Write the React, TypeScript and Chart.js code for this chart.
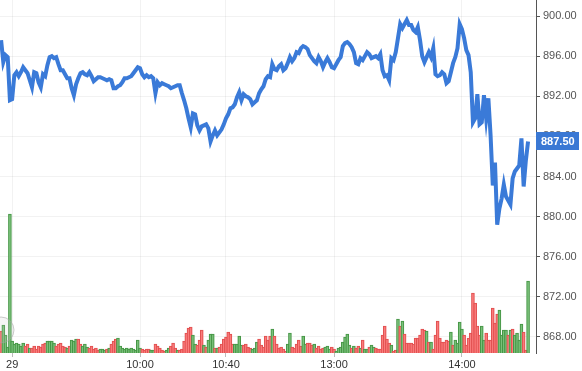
import React, { useEffect, useRef } from 'react';
import { Chart, registerables } from 'chart.js';

Chart.register(...registerables);

// Price (close) per bar
const prices = [
  897.6, 895.4, 896.1, 895.9, 891.6, 891.7, 894.1, 894.4, 894.0, 894.4,
  894.9, 894.6, 894.3, 893.6, 892.9, 894.4, 894.3, 893.4, 892.9, 894.2,
  894.0, 895.1, 895.9, 896.0, 895.8, 895.9, 895.2, 894.6, 894.6, 894.2,
  893.8, 893.8, 892.8, 892.1, 893.2, 893.8, 894.3, 894.4, 894.2, 894.1,
  894.4, 894.0, 893.5, 893.7, 893.9, 893.9, 893.8, 893.7, 893.6, 893.7,
  893.6, 892.8, 892.8, 893.0, 893.1, 893.4, 893.8, 893.8, 893.9, 894.0,
  894.3, 894.6, 894.9, 894.8, 894.2, 893.9, 894.1, 893.9, 894.0, 893.8,
  892.3, 893.4, 893.1, 893.3, 893.2, 893.1, 893.0, 892.8, 892.9, 893.0,
  893.1, 893.1, 892.3, 891.6, 890.8, 889.8, 888.9, 890.3, 890.2, 889.1,
  888.6, 889.0, 889.1, 889.2, 888.8, 887.5, 888.1, 888.6, 888.1, 888.4,
  888.7, 889.2, 889.8, 890.2, 890.8, 890.9, 891.2, 891.9, 892.4, 891.6,
  892.2, 892.0, 891.9, 891.7, 891.2, 891.4, 891.6, 892.3, 892.7, 893.0,
  893.7, 894.0, 893.9, 895.2, 894.7, 894.6, 895.0, 895.2, 894.6, 894.8,
  895.3, 895.9, 895.5, 895.8, 896.4, 896.3, 896.8, 897.0, 896.9, 896.7,
  896.1, 895.8, 895.5, 895.3, 895.9, 895.5, 894.9, 895.4, 895.8, 895.4,
  894.9, 894.8, 895.2, 895.6, 895.9, 897.0, 897.3, 897.4, 897.2, 896.9,
  896.4, 895.3, 895.2, 895.8, 895.6, 896.0, 896.4, 896.2, 895.8, 895.9,
  896.0, 895.8, 896.2, 894.6, 894.0, 894.1, 893.6, 895.8, 895.6, 896.4,
  897.8, 899.2, 898.8, 899.2, 899.6, 899.1, 899.1, 898.6, 898.4, 898.9,
  897.6, 896.0, 895.4, 895.9, 896.4, 895.9, 896.8, 894.2, 894.0, 894.1,
  894.4, 894.2, 893.3, 893.5, 894.4, 895.3, 895.9, 896.8, 899.2, 898.7,
  897.8, 896.6, 896.1, 894.4, 889.4, 889.8, 892.2, 889.2, 889.4, 892.1,
  889.8, 891.8, 888.1, 883.1, 885.4, 879.2, 880.8, 881.8, 883.2, 882.0,
  881.6, 881.2, 883.8, 884.5, 884.8, 885.1, 887.8, 883.0, 885.6, 887.5,
];

// Volume per bar
const volumes = [
  22, 28, 18, 6, 139, 12, 9, 10, 9, 7,
  10, 7, 9, 5, 5, 7, 4, 7, 6, 9,
  10, 12, 12, 12, 10, 7, 9, 10, 7, 6,
  5, 7, 13, 12, 14, 14, 9, 7, 9, 6,
  5, 7, 4, 5, 3, 4, 4, 3, 4, 5,
  9, 12, 14, 15, 7, 5, 4, 5, 4, 5,
  4, 3, 13, 5, 4, 3, 4, 4, 3, 3,
  9, 7, 5, 3, 2, 3, 5, 7, 10, 5,
  3, 3, 4, 12, 20, 25, 26, 18, 9, 8,
  13, 23, 8, 6, 13, 19, 19, 5, 5, 6,
  9, 14, 16, 21, 19, 9, 9, 9, 17, 8,
  8, 9, 6, 5, 4, 5, 11, 14, 8, 6,
  17, 13, 17, 24, 17, 9, 5, 6, 4, 2,
  9, 20, 6, 5, 9, 13, 7, 17, 9, 10,
  10, 8, 9, 5, 7, 4, 5, 6, 7, 4,
  6, 4, 2, 5, 6, 11, 16, 19, 8, 5,
  7, 5, 7, 5, 13, 4, 4, 6, 8, 6,
  5, 4, 4, 18, 27, 14, 10, 8, 2, 3,
  34, 27, 32, 19, 10, 10, 10, 9, 15, 15,
  18, 24, 23, 22, 11, 11, 4, 18, 32, 15,
  11, 11, 13, 12, 21, 8, 13, 10, 31, 24,
  18, 8, 15, 20, 60, 50, 27, 18, 27, 13,
  20, 13, 13, 45, 30, 39, 43, 18, 23, 23,
  18, 23, 24, 18, 20, 13, 29, 21, 3, 72,
];

// Candle direction per bar: U = up, D = down
const barDirection =
  'DUUUUUUUUU' + 'UDDUDDDDDD' + 'DUUUUDDDDD' + 'UDUUUDDUUU' + 'DDDDDUUUDU' +
  'DDDUUUUUUU' + 'UUUUDDDDUU' + 'DDDDDUUDDD' + 'UDDDDDDUUD' + 'DDUDUUUDUD' +
  'DDDDDDUUUU' + 'DDDDUUUDDD' + 'DDDUDDDDDD' + 'UUDDDDDUUD' + 'DDUDDDDUUU' +
  'DDUUUUUUUD' + 'UDDUDUUDUU' + 'DDDDDDDUDD' + 'UDUDDDDDDD' + 'DDDUDUDDDD' +
  'DDDDUDUUUU' + 'DDDDDDDDUU' + 'DDDDDDUUUU' + 'DUDUUUUDDU';

const timeTickIndex = [5, 63, 102, 151, 209];
const timeTickLabels = ['29', '10:00', '10:40', '13:00', '14:00'];
const priceTicks = [868, 872, 876, 880, 884, 888, 892, 896, 900];
const priceMin = 866.4;
const priceMax = 901.6;
const volumeAxisMax = 353;

export default function App() {
  const ref = useRef<HTMLCanvasElement>(null);

  useEffect(() => {
    const canvas = ref.current;
    if (!canvas) return;
    Chart.defaults.font.family = '"Liberation Sans", Arial, sans-serif';

    const up = barDirection.split('').map((c) => c === 'U');
    const linePts = prices.map((p, i) => ({ x: i, y: p }));
    const volPts = volumes.map((v, i) => ({ x: i, y: v }));
    const lastPrice = prices[prices.length - 1];

    const overlay = {
      id: 'overlay',
      afterDatasetsDraw(chart: any) {
        const { ctx, chartArea } = chart;
        ctx.save();
        ctx.beginPath();
        ctx.arc(chartArea.left + 1, chartArea.bottom - 23, 13, 0, Math.PI * 2);
        ctx.fillStyle = 'rgba(200,200,200,0.18)';
        ctx.fill();
        ctx.strokeStyle = 'rgba(160,160,160,0.55)';
        ctx.lineWidth = 1;
        ctx.stroke();
        ctx.restore();
      },
      afterDraw(chart: any) {
        const { ctx, chartArea } = chart;
        const y = chart.scales.y.getPixelForValue(lastPrice);
        ctx.save();
        ctx.fillStyle = '#3a78d4';
        ctx.fillRect(chartArea.right, Math.round(y) - 9, 43, 18);
        ctx.fillStyle = '#ffffff';
        ctx.font = 'bold 11px "Liberation Sans", Arial, sans-serif';
        ctx.textBaseline = 'middle';
        ctx.textAlign = 'left';
        ctx.fillText(lastPrice.toFixed(2), chartArea.right + 5, Math.round(y) + 0.5);
        ctx.restore();
      },
    };

    const chart = new Chart(canvas, {
      type: 'bar',
      data: {
        datasets: [
          {
            type: 'line',
            data: linePts,
            xAxisID: 'x',
            yAxisID: 'y',
            borderColor: 'rgb(58,122,216)',
            borderWidth: 4,
            pointRadius: 0,
            tension: 0,
            order: 0,
          } as any,
          {
            type: 'bar',
            data: volPts,
            xAxisID: 'x',
            yAxisID: 'vol',
            backgroundColor: up.map((u) => (u ? 'rgba(120,195,120,0.7)' : 'rgba(255,120,120,0.7)')),
            borderColor: up.map((u) => (u ? 'rgba(70,150,70,1)' : 'rgba(225,80,80,1)')),
            borderWidth: 1,
            barThickness: 3,
            order: 1,
          } as any,
        ],
      },
      options: {
        animation: false,
        responsive: false,
        devicePixelRatio: 1,
        layout: { padding: 0 },
        plugins: { legend: { display: false }, tooltip: { enabled: false } },
        scales: {
          x: {
            type: 'linear',
            position: 'bottom',
            min: -0.5,
            max: 242.6,
            offset: false,
            grid: {
              offset: false,
              color: 'rgba(0,0,0,0.05)',
              tickColor: '#bbbbbb',
              tickLength: 4,
            },
            border: { display: false },
            ticks: {
              autoSkip: false,
              maxRotation: 0,
              padding: 1,
              color: '#333',
              font: { size: 11 },
              callback: (_v: any, i: number) => timeTickLabels[i],
            },
            afterBuildTicks: (scale: any) => {
              scale.ticks = timeTickIndex.map((v) => ({ value: v }));
            },
            afterFit: (scale: any) => {
              scale.height = 18;
              scale.paddingLeft = 0;
              scale.paddingRight = 0;
            },
          } as any,
          y: {
            type: 'linear',
            position: 'right',
            min: priceMin,
            max: priceMax,
            grid: {
              color: 'rgba(0,0,0,0.05)',
              tickColor: '#555',
              tickLength: 4,
            },
            border: { display: true, color: '#555', width: 1 },
            ticks: {
              padding: 3,
              color: '#555',
              font: { size: 11 },
              callback: (v: any) => Number(v).toFixed(2),
            },
            afterBuildTicks: (scale: any) => {
              scale.ticks = priceTicks.map((v) => ({ value: v }));
            },
            afterFit: (scale: any) => {
              scale.width = 46;
              scale.paddingTop = 0;
              scale.paddingBottom = 0;
            },
          } as any,
          vol: {
            type: 'linear',
            display: false,
            min: 0,
            max: volumeAxisMax,
          },
        },
      },
      plugins: [overlay],
    } as any);

    return () => chart.destroy();
  }, []);

  return (
    <div style={{ position: 'fixed', left: 0, top: 0, width: 582, height: 371, background: '#fff' }}>
      <canvas ref={ref} width={582} height={371} style={{ display: 'block' }} />
    </div>
  );
}
